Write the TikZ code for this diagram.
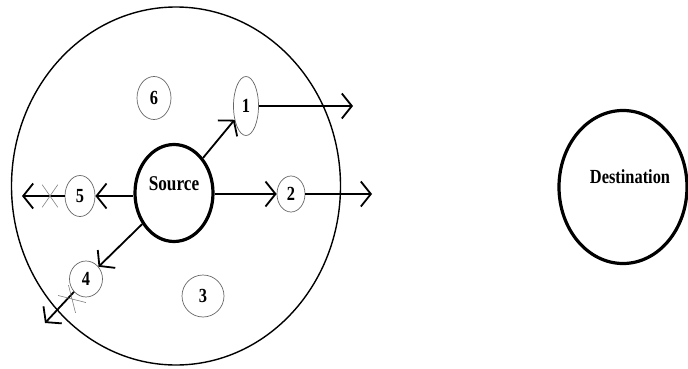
\documentclass[tikz,border=0pt]{standalone}
\usepackage{fontspec}
\setmainfont{Liberation Serif}
\usetikzlibrary{shapes.geometric,shapes.misc,arrows.meta}
\newcommand{\narrow}[1]{\scalebox{0.82}[1]{#1}}
\tikzset{
  zone/.style={ellipse, draw=black, line width=1.4pt, inner sep=0pt},
  bignode/.style={ellipse, draw=black, line width=3.2pt, inner sep=0pt},
  small/.style={ellipse, draw=black!60, line width=0.7pt, inner sep=0pt, font=\fontsize{20}{20}\selectfont\bfseries},
  lbl/.style={inner sep=0pt, font=\fontsize{21}{21}\selectfont\bfseries},
  arr/.style={line width=1.8pt, -{Straight Barb[length=10pt,width=25pt,line width=1.8pt]}},
  xmark/.style={cross out, draw=black!50, line width=0.6pt, inner sep=0pt}
}
\begin{document}
\begin{tikzpicture}[x=1pt,y=-1pt]
\useasboundingbox (0,0) rectangle (688,369);
% zone
\node[zone, minimum width=329pt, minimum height=358pt] (zone) at (176,186) {};
% source
\node[bignode, minimum width=78pt, minimum height=97pt] (src) at (174,193) {};
\node[lbl] (srclbl) at (174,184) {\narrow{Source}};
% destination
\node[bignode, minimum width=128pt, minimum height=153pt] (dst) at (623,187) {};
\node[lbl, font=\fontsize{20}{20}\selectfont\bfseries] (dstlbl) at (630,177) {\narrow{Destination}};
% small nodes
\node[small, minimum width=25pt, minimum height=59pt] (n1) at (246,106) {\narrow{1}};
\node[small, minimum width=28pt, minimum height=36pt] (n2) at (291,194) {\narrow{2}};
\node[small, minimum width=42pt, minimum height=42pt] (n3) at (203,296) {\narrow{3}};
\node[small, minimum width=33pt, minimum height=36pt] (n4) at (86,279) {\narrow{4}};
\node[small, minimum width=30pt, minimum height=41pt] (n5) at (80,196) {\narrow{5}};
\node[small, minimum width=34pt, minimum height=43pt] (n6) at (154,98) {\narrow{6}};
% free ends
\coordinate (e1) at (353,106);
\coordinate (e2) at (372,194);
\coordinate (e5) at (22,196);
\coordinate (e4) at (45,323);
% arrows
\draw[arr] (src) -- (n1);
\draw[arr] (src.east |- n2) -- (n2);
\draw[arr] (src.west |- n5) -- (n5);
\draw[arr] (src) -- (n4);
\draw[arr] (n1.east) -- (e1);
\draw[arr] (n2) -- (e2);
\draw[arr] (n5) -- (e5);
\draw[arr] (n4) -- (e4);
% cross marks
\node[xmark, minimum width=15pt, minimum height=22pt] (x5) at (50,196) {};
\node[xmark, minimum width=24pt, minimum height=14pt, rotate=-45] (x4) at (72,299) {};
\end{tikzpicture}
\end{document}
